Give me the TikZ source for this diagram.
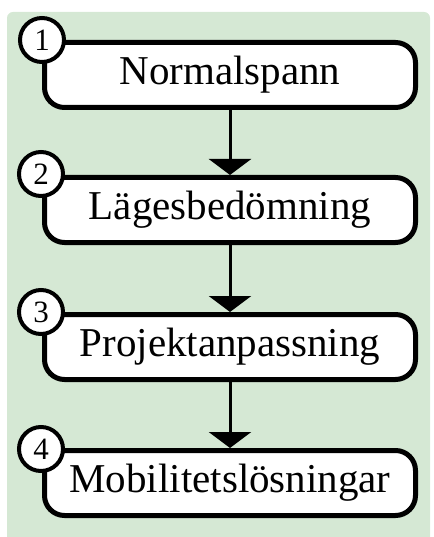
\documentclass[tikz,border=0pt]{standalone}
\usepackage{fontspec}
\setmainfont{Liberation Serif}
\usetikzlibrary{arrows.meta}
\definecolor{bggreen}{HTML}{D5E8D4}
\begin{document}
\begin{tikzpicture}[x=1pt,y=-1pt,
  stepbox/.style={draw,line width=5pt,rounded corners=20pt,fill=white,
    minimum width=371pt,minimum height=65pt,inner sep=0pt,
    font=\fontsize{41}{41}\selectfont},
  numcirc/.style={circle,draw,line width=4pt,fill=white,minimum size=44pt,
    inner sep=0pt,font=\fontsize{31}{31}\selectfont},
  flow/.style={line width=3pt,-{Triangle[width=42pt,length=16pt]}}]
\useasboundingbox (0,0) rectangle (433,537);
\fill[bggreen,rounded corners=6pt] (7,12) rectangle (430,545);
\node[stepbox] (b1) at (230,75) {Normalspann};
\node[stepbox] (b2) at (230,210) {Lägesbedömning};
\node[stepbox] (b3) at (230,347) {Projektanpassning};
\node[stepbox] (b4) at (230,483) {Mobilitetslösningar};
\node[numcirc] (c1) at (42,40) {1};
\node[numcirc] (c2) at (41,174) {2};
\node[numcirc] (c3) at (41,312) {3};
\node[numcirc] (c4) at (41,449) {4};
\draw[flow] (b1) -- (b2);
\draw[flow] (b2) -- (b3);
\draw[flow] (b3) -- (b4);
\end{tikzpicture}
\end{document}
